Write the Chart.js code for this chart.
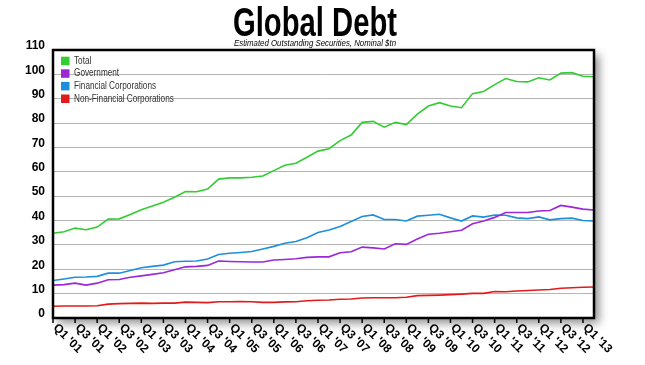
<!DOCTYPE html>
<html>
<head>
<meta charset="utf-8">
<script src="https://cdn.jsdelivr.net/npm/chart.js@4.4.1/dist/chart.umd.min.js"></script>
<style>
    html, body { margin: 0; padding: 0; background: #fff; }
    canvas { display: block; }
</style>
</head>
<body>
<canvas id="grafica" width="645" height="365"></canvas>
<script>
// ── Datos ─────────────────────────────────────────────────────
const trimestres = [
    "Q1 '01", "Q2 '01", "Q3 '01", "Q4 '01", "Q1 '02", "Q2 '02", "Q3 '02", "Q4 '02",
    "Q1 '03", "Q2 '03", "Q3 '03", "Q4 '03", "Q1 '04", "Q2 '04", "Q3 '04", "Q4 '04",
    "Q1 '05", "Q2 '05", "Q3 '05", "Q4 '05", "Q1 '06", "Q2 '06", "Q3 '06", "Q4 '06",
    "Q1 '07", "Q2 '07", "Q3 '07", "Q4 '07", "Q1 '08", "Q2 '08", "Q3 '08", "Q4 '08",
    "Q1 '09", "Q2 '09", "Q3 '09", "Q4 '09", "Q1 '10", "Q2 '10", "Q3 '10", "Q4 '10",
    "Q1 '11", "Q2 '11", "Q3 '11", "Q4 '11", "Q1 '12", "Q2 '12", "Q3 '12", "Q4 '12",
    "Q1 '13", "Q2 '13"
];

const total = [
    34.8, 35.4, 36.9, 36.2, 37.3, 40.6, 40.7, 42.5, 44.4, 46.0,
    47.5, 49.6, 51.9, 51.8, 52.9, 57.0, 57.5, 57.5, 57.8, 58.3,
    60.5, 62.7, 63.5, 66.0, 68.5, 69.5, 72.8, 75.1, 80.3, 80.7,
    78.3, 80.3, 79.4, 83.7, 87.0, 88.4, 87.0, 86.3, 92.1, 93.0,
    95.8, 98.3, 97.1, 96.9, 98.6, 97.7, 100.5, 100.7, 99.2, 99.0
];

const gobierno = [
    13.5, 13.7, 14.3, 13.5, 14.3, 15.7, 15.8, 16.7, 17.3, 17.9,
    18.6, 19.8, 21.0, 21.2, 21.6, 23.4, 23.2, 23.1, 23.0, 23.0,
    23.8, 24.0, 24.3, 24.9, 25.1, 25.1, 26.8, 27.2, 29.1, 28.8,
    28.3, 30.5, 30.2, 32.4, 34.4, 34.8, 35.4, 36.0, 38.7, 39.8,
    41.3, 43.3, 43.3, 43.3, 43.9, 44.1, 46.2, 45.5, 44.7, 44.3
];

const financieras = [
    15.4, 16.0, 16.7, 16.8, 17.1, 18.4, 18.4, 19.5, 20.6, 21.2,
    21.7, 23.1, 23.3, 23.4, 24.2, 26.1, 26.6, 26.9, 27.3, 28.3,
    29.4, 30.7, 31.4, 32.9, 35.1, 36.1, 37.6, 39.6, 41.7, 42.3,
    40.4, 40.4, 39.8, 41.8, 42.2, 42.6, 41.1, 39.8, 41.9, 41.4,
    42.3, 42.2, 41.1, 40.8, 41.5, 40.3, 40.8, 41.0, 40.0, 39.8
];

const noFinancieras = [
    4.8, 4.9, 4.9, 4.9, 5.0, 5.7, 5.9, 6.0, 6.1, 6.0,
    6.1, 6.1, 6.5, 6.4, 6.3, 6.7, 6.7, 6.8, 6.7, 6.4,
    6.4, 6.6, 6.7, 7.1, 7.3, 7.4, 7.7, 7.8, 8.2, 8.3,
    8.3, 8.3, 8.5, 9.2, 9.3, 9.4, 9.6, 9.8, 10.1, 10.1,
    10.9, 10.8, 11.1, 11.3, 11.5, 11.7, 12.2, 12.4, 12.6, 12.7
];

const titulo    = 'Global Debt';
const subtitulo = 'Estimated Outstanding Securities, Nominal $tn';

// ── Marco, etiquetas y leyenda ────────────────────────────────
const FUENTE = '"Liberation Sans", Arial, Helvetica, sans-serif';

const marco = {
    id: 'marco',
    beforeDraw(chart) {
        const { ctx, chartArea: a } = chart;
        ctx.save();
        ctx.fillStyle = '#fff';
        ctx.fillRect(0, 0, chart.width, chart.height);
        // sombra del recuadro
        ctx.shadowColor   = 'rgba(0,0,0,0.45)';
        ctx.shadowBlur    = 9;
        ctx.shadowOffsetX = 5;
        ctx.shadowOffsetY = 5;
        ctx.fillRect(a.left, a.top, a.right - a.left, a.bottom - a.top);
        ctx.restore();
    },
    afterDraw(chart) {
        const { ctx, chartArea: a } = chart;
        const x = chart.scales.x;
        ctx.save();

        // borde negro
        ctx.strokeStyle = '#000';
        ctx.lineWidth = 2.5;
        ctx.strokeRect(a.left, a.top, a.right - a.left, a.bottom - a.top);

        // marcas y etiquetas del eje x (cada 2 trimestres)
        ctx.lineWidth = 1.5;
        ctx.fillStyle = '#000';
        ctx.font = `bold 12px ${FUENTE}`;
        ctx.textAlign = 'left';
        ctx.textBaseline = 'middle';
        trimestres.forEach((t, i) => {
            if (i % 2 !== 0) return;
            const px = x.getPixelForValue(i);
            ctx.beginPath();
            ctx.moveTo(px, a.bottom);
            ctx.lineTo(px, a.bottom + 5);
            ctx.stroke();
            ctx.save();
            ctx.translate(px + 2, a.bottom + 8);
            ctx.rotate(Math.PI / 4);
            ctx.fillText(t, 0, 0);
            ctx.restore();
        });

        // leyenda
        ctx.font = `10px ${FUENTE}`;
        chart.data.datasets.forEach((ds, i) => {
            const cy = a.top + 11 + i * 12.6;
            ctx.fillStyle = ds.borderColor;
            ctx.fillRect(a.left + 8, cy - 4.3, 8.5, 8.5);
            ctx.save();
            ctx.translate(a.left + 21, cy);
            ctx.scale(0.82, 1);
            ctx.fillStyle = '#333';
            ctx.fillText(ds.label, 0, 0);
            ctx.restore();
        });

        // título y subtítulo (condensados)
        const cx = 315;
        ctx.textAlign = 'center';
        ctx.textBaseline = 'alphabetic';
        ctx.fillStyle = '#000';
        ctx.font = `bold 40px ${FUENTE}`;
        let w = ctx.measureText(titulo).width;
        ctx.save();
        ctx.translate(cx, 36);
        ctx.scale(164 / w, 1);
        ctx.fillText(titulo, 0, 0);
        ctx.restore();

        ctx.font = `italic 9px ${FUENTE}`;
        w = ctx.measureText(subtitulo).width;
        ctx.save();
        ctx.translate(cx, 46);
        ctx.scale(162 / w, 1);
        ctx.fillText(subtitulo, 0, 0);
        ctx.restore();

        ctx.restore();
    }
};

// ── Gráfica ───────────────────────────────────────────────────
const serie = (label, data, color) => ({
    label,
    data,
    borderColor: color,
    backgroundColor: color,
    borderWidth: 1.6,
    pointRadius: 0,
    tension: 0,
    fill: false,
});

new Chart(document.getElementById('grafica').getContext('2d'), {
    type: 'line',
    data: {
        labels: trimestres,
        datasets: [
            serie('Total', total, '#33cc33'),
            serie('Government', gobierno, '#9b27d9'),
            serie('Financial Corporations', financieras, '#1e8fdc'),
            serie('Non-Financial Corporations', noFinancieras, '#e11b1b'),
        ]
    },
    options: {
        responsive: false,
        animation: false,
        layout: { padding: { top: 50, right: 51, bottom: 0, left: 0 } },
        plugins: {
            legend: { display: false },
            tooltip: { enabled: false },
            title: { display: false }
        },
        scales: {
            x: {
                type: 'category',
                offset: false,
                grid: { display: false },
                border: { display: false },
                ticks: { display: false },
                afterFit: s => { s.height = 47; }
            },
            y: {
                min: 0,
                max: 110,
                grid: { color: '#b5b5b5', lineWidth: 1, drawTicks: false },
                border: { display: false },
                ticks: {
                    stepSize: 10,
                    padding: 8,
                    labelOffset: -4,
                    color: '#000',
                    font: { family: FUENTE, size: 12, weight: 'bold' }
                },
                afterFit: s => { s.width = 53; }
            }
        }
    },
    plugins: [marco]
});
</script>
</body>
</html>
